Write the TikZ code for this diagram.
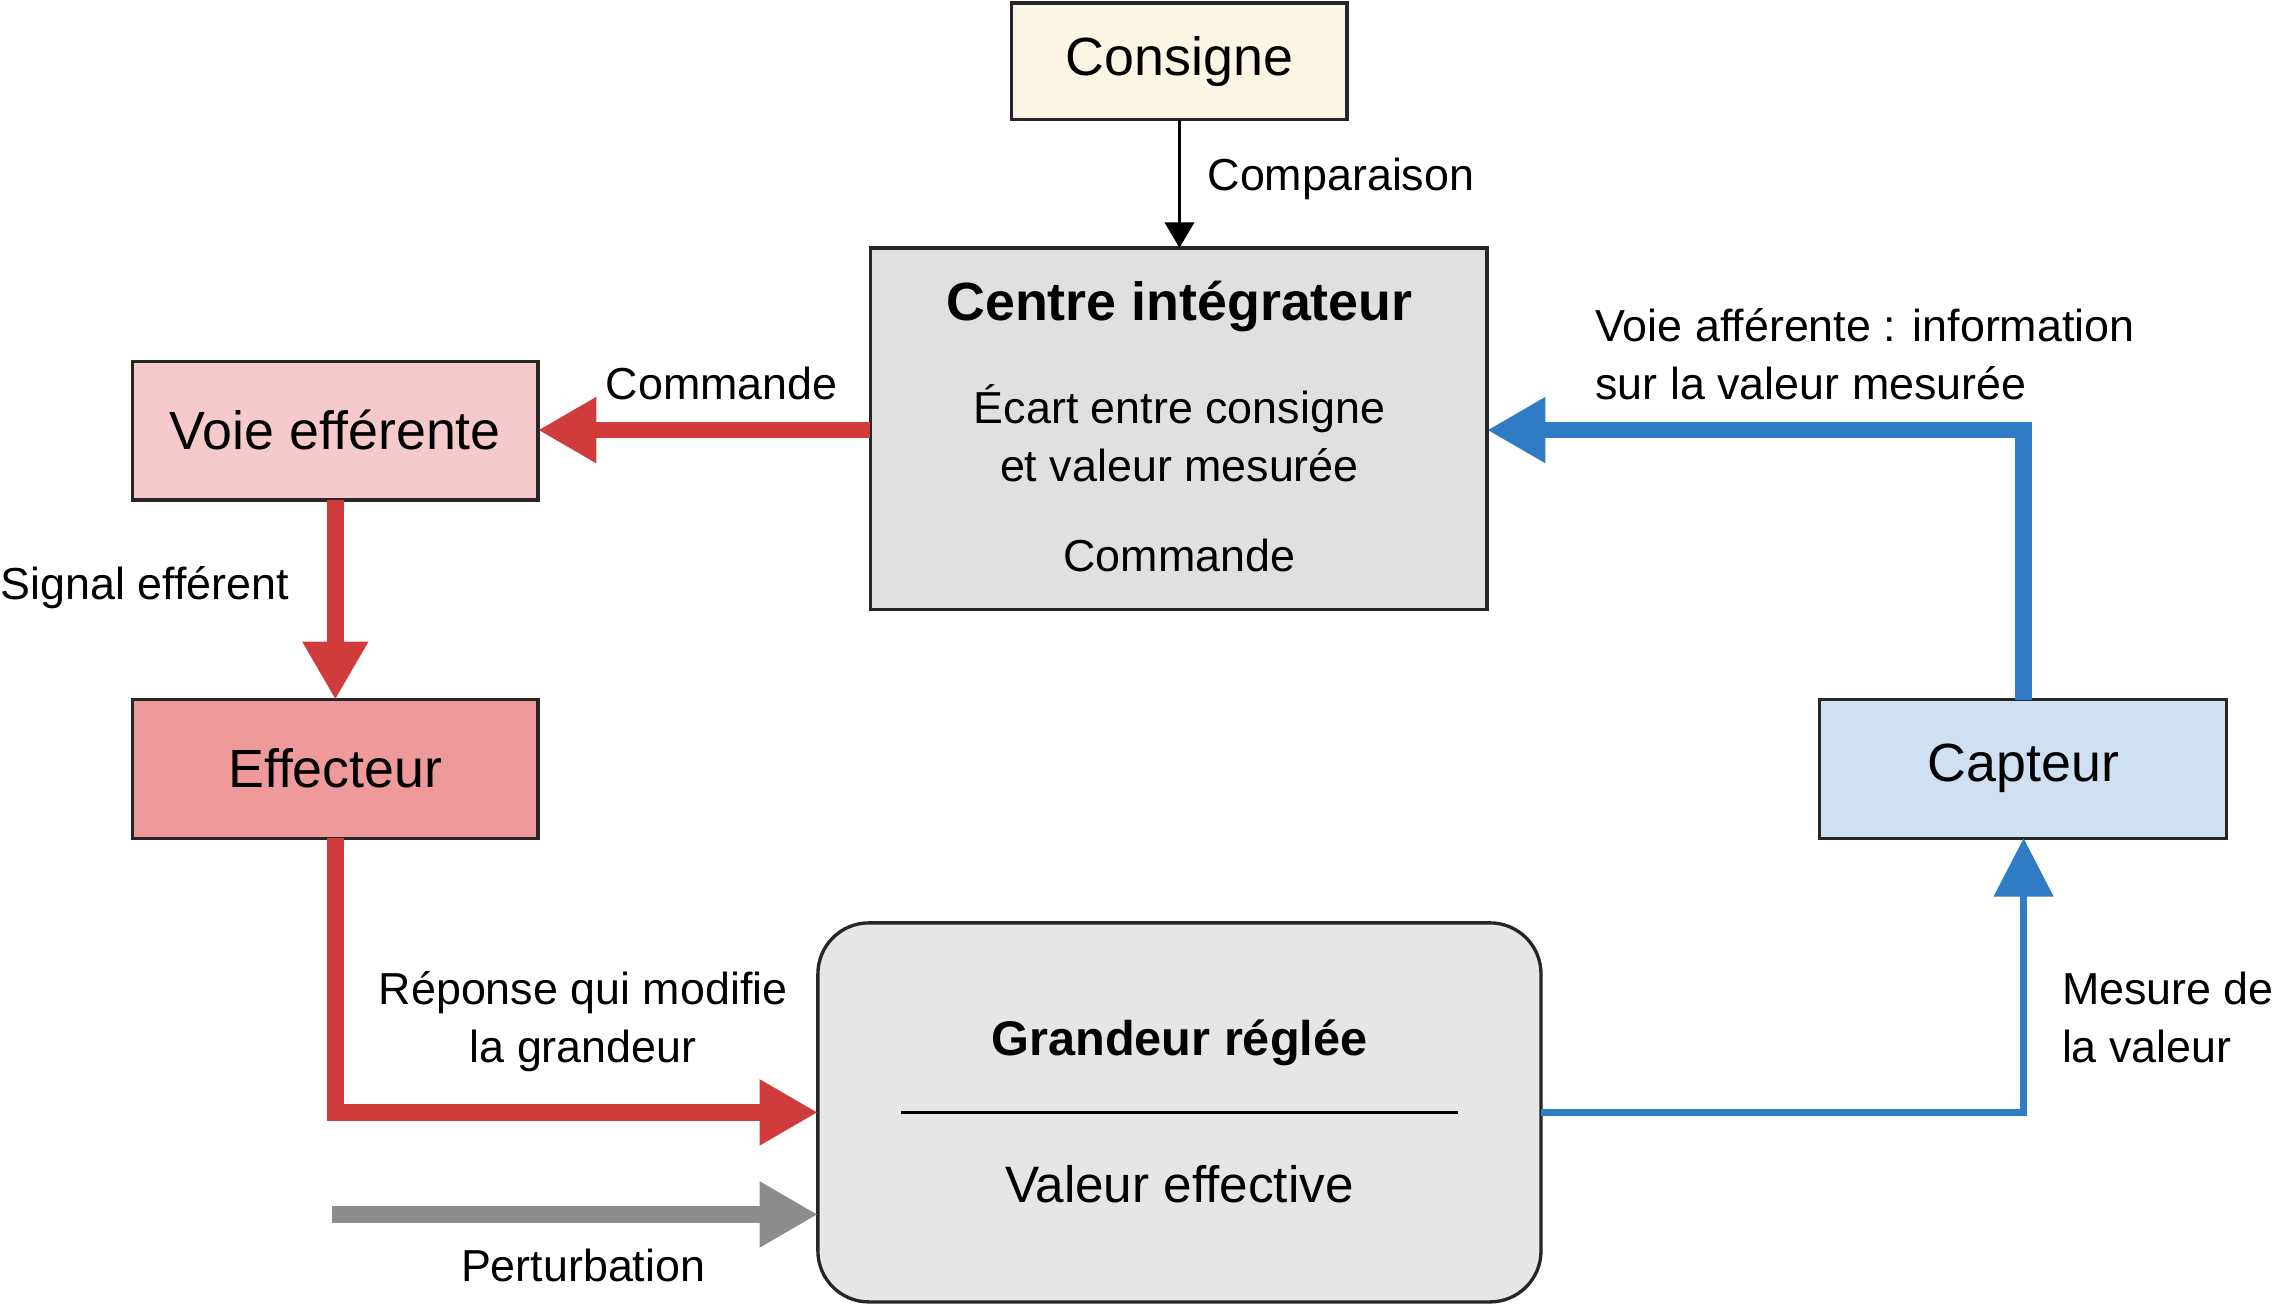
\documentclass[tikz,border=0pt]{standalone}
\usepackage{fontspec}
\setmainfont{Liberation Sans}
\usetikzlibrary{arrows.meta}
\definecolor{cream}{HTML}{FBF6E3}
\definecolor{cgray}{HTML}{E0E0E0}
\definecolor{gfill}{HTML}{E6E6E6}
\definecolor{pinkf}{HTML}{F6CACA}
\definecolor{redf}{HTML}{EF9A9A}
\definecolor{bluef}{HTML}{CFE0F3}
\definecolor{redl}{HTML}{D03B3B}
\definecolor{bluel}{HTML}{2F7BC4}
\definecolor{grayl}{HTML}{8C8C8C}
\begin{document}
\begin{tikzpicture}[x=0.02cm,y=-0.02cm,
  box/.style={draw=black!85,line width=1.3pt,inner sep=0pt},
  big/.style={font=\fontsize{21}{26}\selectfont},
  lab/.style={font=\fontsize{17.5}{22.7}\selectfont,inner sep=0pt},
  redarrow/.style={draw=redl,line width=6.5pt,-{Triangle[length=0.8cm,width=0.85cm]}},
  bluearrow/.style={draw=bluel,line width=6.5pt,-{Triangle[length=0.8cm,width=0.85cm]}},
  thinblue/.style={draw=bluel,line width=2.8pt,-{Triangle[length=0.8cm,width=0.8cm]}},
  grayarrow/.style={draw=grayl,line width=6.5pt,-{Triangle[length=0.8cm,width=0.85cm]}}]
\useasboundingbox (0,0) rectangle (1568,896);
% boxes
\draw[box,fill=cream] (694,2) rectangle (924,82);
\node[big] (consigne) at (809,42) {Consigne};
\coordinate (consB) at (809,82);
\draw[box,fill=cgray] (597,170) rectangle (1020,418);
\coordinate (centT) at (809,170);
\coordinate (centL) at (597,295);
\coordinate (centR) at (1020,295);
\node[big,font=\fontsize{21}{26}\selectfont\bfseries] (ct) at (809,210) {Centre intégrateur};
\node[lab,align=center] (ecart) at (809,297) {Écart entre consigne\\et valeur mesurée};
\node[lab] (cmd2) at (809,381) {Commande};
\draw[box,fill=pinkf] (91,248) rectangle (369,343);
\node[big] (voie) at (230,295) {Voie efférente};
\coordinate (voieR) at (369,295);
\coordinate (voieB) at (230,343);
\draw[box,fill=redf] (91,480) rectangle (369,575);
\node[big] (eff) at (230,527) {Effecteur};
\coordinate (effT) at (230,480);
\coordinate (effB) at (230,575);
\draw[box,fill=bluef] (1248,480) rectangle (1527,575);
\node[big] (capt) at (1388,527) {Capteur};
\coordinate (capT) at (1388,480);
\coordinate (capB) at (1388,575);
\draw[box,fill=gfill,rounded corners=0.7cm] (561,633) rectangle (1057,893);
\node[font=\fontsize{19}{24}\selectfont\bfseries] (gr) at (809,715) {Grandeur réglée};
\draw[line width=1pt] (618,763) -- (1000,763);
\node[lab] (ve) at (809,812) {\fontsize{20}{24}\selectfont Valeur effective};
\coordinate (grL1) at (561,763);
\coordinate (grL2) at (561,833);
\coordinate (grR) at (1057,763);
\coordinate (pert0) at (228,833);
% connectors
\draw[line width=1.4pt,-{Triangle[length=0.35cm,width=0.4cm]}] (consB) -- (centT);
\draw[redarrow] (centL) -- (voieR);
\draw[redarrow] (voieB) -- (effT);
\draw[redarrow] (effB) -- (230,763) -- (grL1);
\draw[grayarrow] (pert0) -- (grL2);
\draw[thinblue] (grR) -- (1388,763) -- (capB);
\draw[bluearrow] (capT) -- (1388,295) -- (centR);
% labels
\node[lab,anchor=west] (l1) at (828,123) {Comparaison};
\node[lab] (l2) at (495,263) {Commande};
\node[lab,anchor=west,align=left] (l3) at (1094,243) {Voie afférente : information\\sur la valeur mesurée};
\node[lab,anchor=west] (l4) at (0,403) {Signal efférent};
\node[lab,align=center] (l5) at (400,701) {Réponse qui modifie\\la grandeur};
\node[lab] (l6) at (400,868) {Perturbation};
\node[lab,anchor=west,align=left] (l7) at (1414,698) {Mesure de\\la valeur};
\end{tikzpicture}
\end{document}
